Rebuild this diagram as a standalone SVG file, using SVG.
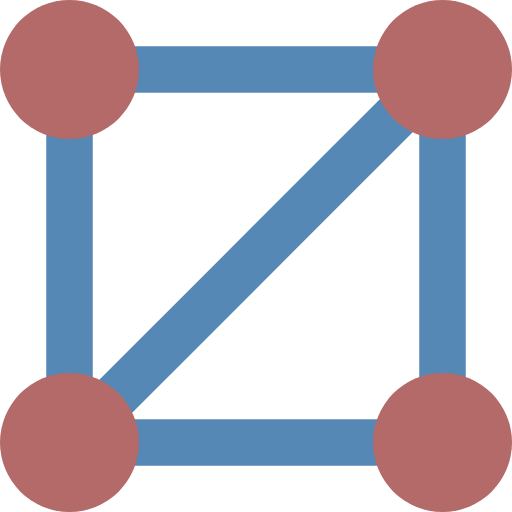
<svg xmlns="http://www.w3.org/2000/svg" width="512" height="512" viewBox="0 0 512 512">
<style>
.edge{stroke:#5588B4;stroke-width:46.5;fill:none}
.node{fill:#B46A68}
</style>
<rect width="512" height="512" fill="#fff"/>
<g id="connectors">
<line class="edge" x1="69.5" y1="69.5" x2="442.5" y2="69.5"/>
<line class="edge" x1="69.5" y1="69.5" x2="69.5" y2="442.5"/>
<line class="edge" x1="442.5" y1="69.5" x2="442.5" y2="442.5"/>
<line class="edge" x1="69.5" y1="442.5" x2="442.5" y2="442.5"/>
<line class="edge" x1="69.5" y1="442.5" x2="442.5" y2="69.5"/>
</g>
<g id="n1"><circle class="node" cx="69.5" cy="69.5" r="69.5"/></g>
<g id="n2"><circle class="node" cx="442.5" cy="69.5" r="69.5"/></g>
<g id="n3"><circle class="node" cx="69.5" cy="442.5" r="69.5"/></g>
<g id="n4"><circle class="node" cx="442.5" cy="442.5" r="69.5"/></g>
</svg>
